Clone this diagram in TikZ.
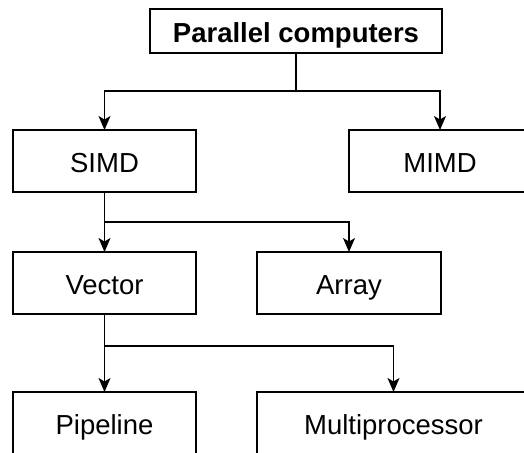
\documentclass[tikz,border=0pt]{standalone}
\usepackage{fontspec}
\setmainfont{Liberation Sans}
\usetikzlibrary{positioning,arrows.meta}

\begin{document}
\begin{tikzpicture}[
x=1pt, y=-1pt,
box/.style={draw=black, line width=1.3pt, inner sep=0pt, outer sep=0pt, minimum width=183pt, minimum height=62pt, text height=23pt, text depth=0pt, font=\fontsize{27.5}{32}\selectfont},
arrow/.style={-{Stealth[length=14pt, width=12pt, inset=3.5pt]}, line width=1.3pt}
]
\useasboundingbox (0,0) rectangle (524,452);
\clip (0,0) rectangle (524,452);
\node[box, minimum width=292pt, minimum height=44pt, font=\fontsize{27.5}{32}\selectfont\bfseries] (parallel) at (296,31) {Parallel computers};
\node[box] (simd) at (104.5,161) {SIMD};
\node[box, minimum width=182pt] (mimd) at (440,161) {MIMD};
\node[box] (vector) at (104.5,283) {Vector};
\node[box, minimum width=184pt] (array) at (349,283) {Array};
\node[box] (pipeline) at (104.5,423) {Pipeline};
\node[box, minimum width=273pt] (multi) at (393.5,423) {Multiprocessor};
\draw[arrow] (parallel.south) -- ++(0,38) -| (simd.north);
\draw[arrow] (parallel.south) -- ++(0,38) -| (mimd.north);
\draw[arrow] (simd.south) -- ++(0,30) -| (vector.north);
\draw[arrow] (simd.south) -- ++(0,30) -| (array.north);
\draw[arrow] (vector.south) -- ++(0,32) -| (pipeline.north);
\draw[arrow] (vector.south) -- ++(0,32) -| (multi.north);
\end{tikzpicture}
\end{document}
